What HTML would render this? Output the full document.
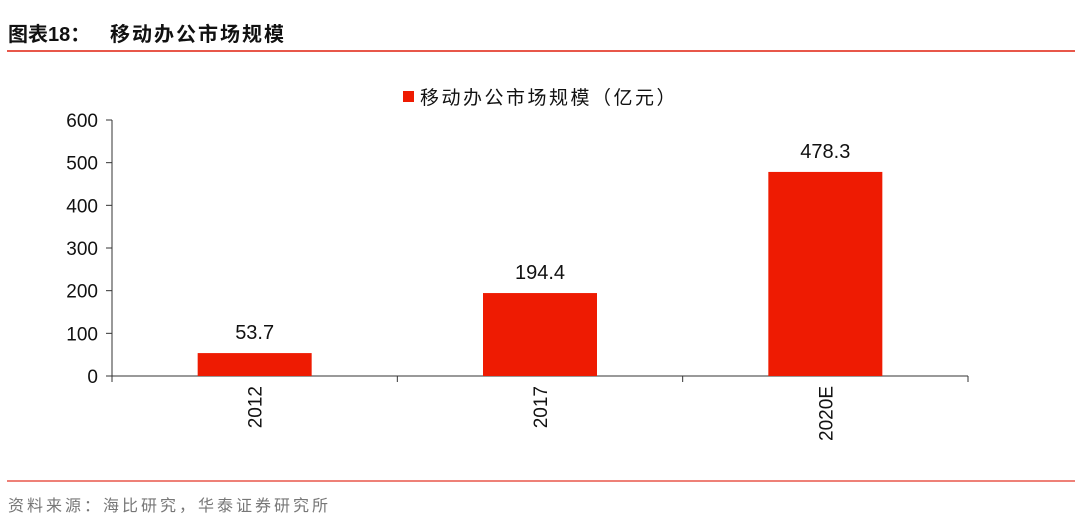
<!DOCTYPE html>
<html><head><meta charset="utf-8">
<style>
body{margin:0;background:#fff;width:1080px;height:525px;overflow:hidden;font-family:"Liberation Sans","Noto Sans CJK SC",sans-serif;}
</style></head>
<body>
<svg width="1080" height="525" xmlns="http://www.w3.org/2000/svg">
<text x="8" y="41" font-size="20" font-weight="bold" fill="#111">图表18：<tspan x="110" letter-spacing="2">移动办公市场规模</tspan></text>
<line x1="7" y1="51" x2="1075" y2="51" stroke="#e8574a" stroke-width="2"/>
<g>
<rect x="403" y="91" width="11" height="11" fill="#ee1b02"/>
<text x="420" y="104" font-size="19" letter-spacing="2.5" fill="#111">移动办公市场规模（亿元）</text>
</g>
<g id="plot"></g>
<line x1="7" y1="481" x2="1075" y2="481" stroke="#e8574a" stroke-width="1.5"/>
<text x="8" y="511" font-size="16" letter-spacing="3" fill="#777">资料来源：海比研究，华泰证券研究所</text>
</svg>
<script>
const categories=["2012","2017","2020E"];
const values=[53.7,194.4,478.3];
const yTicks=[0,100,200,300,400,500,600];
const NS="http://www.w3.org/2000/svg";
const g=document.getElementById('plot');
const x0=112,x1=968,y0=376,y1=120,yMax=600;
const y=v=>y0-(v/yMax)*(y0-y1);
const band=(x1-x0)/categories.length;
const xc=i=>x0+band*(i+0.5);
function mk(t,a){const e=document.createElementNS(NS,t);for(const k in a)e.setAttribute(k,a[k]);g.appendChild(e);return e;}
let ax=mk('line',{x1:x0,y1:y1,x2:x0,y2:y0,stroke:'#333','stroke-width':1});


let bx=mk('line',{x1:x0,y1:y0,x2:x1,y2:y0,stroke:'#333','stroke-width':1});


yTicks.forEach(v=>{
 const t=mk('line',{x1:x0-6,y1:y(v),x2:x0,y2:y(v),stroke:'#333'});
 
 
 const l=mk('text',{x:x0-14,y:y(v)+7,'font-size':19,'text-anchor':'end',fill:'#111'});
 l.textContent=v;
 
 
});
for(let i=0;i<=categories.length;i++){
 const t=mk('line',{x1:x0+band*i,y1:y0,x2:x0+band*i,y2:y0+6,stroke:'#333'});
 
 
}
const bw=114;
categories.forEach((c,i)=>{
 const b=mk('rect',{x:xc(i)-bw/2,y:y(values[i]),width:bw,height:y0-y(values[i]),fill:'#ee1b02'});
 
 
 const v=mk('text',{x:xc(i),y:y(values[i])-14,'font-size':20,'text-anchor':'middle',fill:'#111'});
 v.textContent=values[i];
 
 
 const l=mk('text',{x:0,y:0,'font-size':19,'text-anchor':'end',fill:'#111',transform:`translate(${xc(i)+7},${y0+10}) rotate(-90)`});
 l.textContent=c;
 
 
});
</script>
</body></html>
